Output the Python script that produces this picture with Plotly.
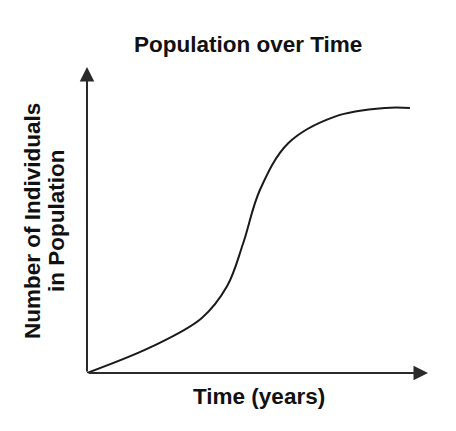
import plotly.graph_objects as go

# Data (arbitrary units: time 0-10, population 0-100)
time_years = [0.0, 1.90, 3.36, 4.11, 4.58, 5.07, 5.90, 7.27, 8.74, 9.47]
population = [0.0, 8.6, 17.9, 28.4, 42.4, 59.8, 75.1, 83.8, 86.6, 86.6]

x_max = 10
y_max = 100

W, H = 456, 431
L, R, T, B = 87, 28, 67, 58
pw = W - L - R
ph = H - T - B

def px_to_paper_x(px):
    return (px - L) / pw

def px_to_paper_y(py):
    return (H - B - py) / ph

FONT = "Liberation Sans, Arial, sans-serif"
fs = 22.5

fig = go.Figure()
fig.add_trace(go.Scatter(
    x=time_years, y=population, mode="lines",
    line=dict(color="#1a1a1a", width=2, shape="spline", smoothing=1.0),
    hoverinfo="skip", showlegend=False,
))

annotations = [
    # axes with arrowheads
    dict(x=x_max, y=0, ax=0, ay=0, xref="x", yref="y", axref="x", ayref="y",
         text="", showarrow=True, arrowhead=2, arrowwidth=2, arrowsize=1.45, arrowcolor="#2a2a2a"),
    dict(x=0, y=y_max, ax=0, ay=0, xref="x", yref="y", axref="x", ayref="y",
         text="", showarrow=True, arrowhead=2, arrowwidth=2, arrowsize=1.45, arrowcolor="#2a2a2a"),
    # title
    dict(x=px_to_paper_x(248), y=px_to_paper_y(44), xref="paper", yref="paper",
         text="<b>Population over Time</b>", showarrow=False,
         xanchor="center", yanchor="middle", font=dict(family=FONT, size=fs, color="#111")),
    # x label
    dict(x=px_to_paper_x(259), y=px_to_paper_y(396), xref="paper", yref="paper",
         text="<b>Time (years)</b>", showarrow=False,
         xanchor="center", yanchor="middle", font=dict(family=FONT, size=fs, color="#111")),
    # y label (two lines)
    dict(x=px_to_paper_x(32), y=px_to_paper_y(221), xref="paper", yref="paper",
         text="<b>Number of Individuals</b>", showarrow=False, textangle=-90,
         xanchor="center", yanchor="middle", font=dict(family=FONT, size=fs, color="#111")),
    dict(x=px_to_paper_x(56), y=px_to_paper_y(221), xref="paper", yref="paper",
         text="<b>in Population</b>", showarrow=False, textangle=-90,
         xanchor="center", yanchor="middle", font=dict(family=FONT, size=fs, color="#111")),
]

fig.update_layout(
    width=W, height=H,
    margin=dict(l=L, r=R, t=T, b=B),
    paper_bgcolor="white", plot_bgcolor="white",
    xaxis=dict(range=[0, x_max], visible=False, fixedrange=True),
    yaxis=dict(range=[0, y_max], visible=False, fixedrange=True),
    annotations=annotations,
    showlegend=False,
)

fig.write_html("out.html", config={"displayModeBar": False},
               post_script="document.body.style.margin='0';document.body.style.overflow='hidden';")
